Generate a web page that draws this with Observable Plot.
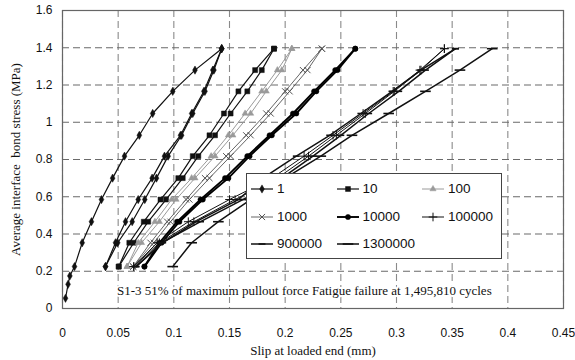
<!DOCTYPE html>
<html><head><meta charset="utf-8">
<script src="https://cdn.jsdelivr.net/npm/d3@7"></script>
<script src="https://cdn.jsdelivr.net/npm/@observablehq/plot@0.6"></script>
<style>
body{margin:0;background:#fff}
#chart{position:relative;width:575px;height:360px;overflow:hidden}
#legend{position:absolute;left:246px;top:173px;width:256px;height:86px;box-sizing:border-box;border:1.5px solid #444;background:#fff;font-family:"Liberation Sans",Arial,sans-serif;font-size:13.5px;color:#111}
.entry{position:absolute;display:flex;align-items:center;height:16px;line-height:16px}
.entry svg{display:block;margin-right:3px}
</style></head><body><div id="chart"></div>
<script>
// ---- data ----
const seriesNames = ["1","10","100","1000","10000","100000","900000","1300000"];
const levels = [0.225,0.353,0.466,0.585,0.70,0.818,0.93,1.047,1.166,1.28,1.395];
// cycle 1: first loading
const c1LoadY = [0.055,0.13,0.175,0.225,0.353,0.466,0.585,0.70,0.818,0.93,1.047,1.166,1.28,1.395];
const c1LoadX = [0.0027,0.005,0.0066,0.0108,0.0177,0.026,0.035,0.045,0.0557,0.069,0.081,0.099,0.119,0.143];
// branches at the stress levels above
const c1A = [0.0386,0.0476,0.0566,0.068,0.0805,0.0916,0.106,0.116,0.127,0.135,0.143];
const c1B = [0.0386,0.0496,0.0626,0.0739,0.0844,0.0949,0.107,0.117,0.128,0.136,0.143];
const c10A = [0.0505,0.060,0.073,0.088,0.104,0.117,0.132,0.145,0.158,0.173,0.190];
const c10B = [0.0505,0.064,0.077,0.093,0.108,0.122,0.137,0.151,0.166,0.179,0.190];
const c100A = [0.058,0.068,0.083,0.098,0.116,0.1335,0.149,0.164,0.179,0.193,0.206];
const c100B = [0.058,0.071,0.087,0.102,0.119,0.137,0.153,0.169,0.183,0.197,0.206];
const c1000A = [0.0635,0.079,0.094,0.111,0.128,0.147,0.165,0.183,0.200,0.216,0.233];
const c1000B = [0.0635,0.082,0.097,0.114,0.132,0.151,0.169,0.187,0.204,0.220,0.233];
const c10000A = [0.0736,0.087,0.103,0.124,0.146,0.166,0.186,0.207,0.226,0.245,0.263];
const c10000B = [0.0736,0.089,0.105,0.126,0.149,0.168,0.188,0.210,0.228,0.247,0.263];
const c100000A = [0.064,0.087,0.118,0.155,0.193,0.221,0.246,0.272,0.298,0.322,0.343];
const c100000B = [0.064,0.085,0.113,0.150,0.188,0.217,0.243,0.270,0.297,0.321,0.343];
const c900000A = [0.066,0.089,0.124,0.162,0.197,0.225,0.250,0.275,0.302,0.326,0.353];
const c900000B = [0.066,0.090,0.120,0.158,0.180,0.210,0.240,0.268,0.296,0.322,0.353];
const c1300000 = [0.099,0.116,0.140,0.169,0.200,0.232,0.260,0.293,0.326,0.357,0.386];
const xTicks = [0,0.05,0.1,0.15,0.2,0.25,0.3,0.35,0.4,0.45];
const yTicks = [0,0.2,0.4,0.6,0.8,1,1.2,1.4,1.6];
const xLabel = ["Slip at loaded end (mm)"];
const yLabel = ["Average interface\u00a0 bond stress (MPa)"];
const note = ["S1-3 51% of maximum pullout force Fatigue failure at 1,495,810 cycles"];

// ---- build table ----
const branches = [
  ["1", c1LoadX, c1LoadY], ["1", c1A, levels], ["1", c1B, levels],
  ["10", c10A, levels], ["10", c10B, levels],
  ["100", c100A, levels], ["100", c100B, levels],
  ["1000", c1000A, levels], ["1000", c1000B, levels],
  ["10000", c10000A, levels], ["10000", c10000B, levels],
  ["100000", c100000A, levels], ["100000", c100000B, levels],
  ["900000", c900000A, levels], ["900000", c900000B, levels],
  ["1300000", c1300000, levels]
];
const rows = [];
branches.forEach(([s, xs, ys], bi) => xs.forEach((x, i) => rows.push({series: s, branch: bi, x, y: ys[i]})));

// ---- styles ----
const dashShort = {draw(ctx, size){ const h = Math.sqrt(size) * 0.65; ctx.moveTo(-h, 0); ctx.lineTo(h, 0); }};
const dashLong = {draw(ctx, size){ const h = Math.sqrt(size) * 1.0; ctx.moveTo(-h, 0); ctx.lineTo(h, 0); }};
const style = {
  "1":       {stroke:"#111", sw:1.2, symbol:d3.symbolDiamond, fill:"#111", r:2.5, msw:0.5},
  "10":      {stroke:"#111", sw:1.2, symbol:d3.symbolSquare, fill:"#111", r:2.8, msw:0.5},
  "100":     {stroke:"#9a9a9a", sw:1.0, symbol:d3.symbolTriangle, fill:"#9a9a9a", r:2.3, msw:0.5},
  "1000":    {stroke:"#555", sw:0.9, symbol:d3.symbolTimes, fill:"none", r:2.9, msw:1},
  "10000":   {stroke:"#000", sw:1.9, symbol:d3.symbolCircle, fill:"#000", r:2.6, msw:0.5},
  "100000":  {stroke:"#111", sw:1.0, symbol:d3.symbolPlus, fill:"none", r:2.9, msw:1},
  "900000":  {stroke:"#111", sw:1.5, symbol:dashShort, fill:"none", r:3.0, msw:1.6},
  "1300000": {stroke:"#111", sw:1.5, symbol:dashLong, fill:"none", r:3.0, msw:1.6}
};
const serif = "'Liberation Serif','Times New Roman',serif";

const seriesMarks = seriesNames.flatMap(s => {
  const st = style[s];
  const data = rows.filter(d => d.series === s);
  return [
    Plot.line(data, {x:"x", y:"y", z:"branch", stroke:st.stroke, strokeWidth:st.sw}),
    Plot.dot(data, {x:"x", y:"y", symbol:st.symbol, r:st.r,
      fill: st.fill, stroke: st.stroke, strokeWidth: st.msw})
  ];
});

const chart = Plot.plot({
  width:575, height:360,
  marginLeft:62, marginRight:12, marginTop:10, marginBottom:52,
  style:{fontFamily:"'Liberation Sans', Arial, sans-serif", fontSize:"12px", color:"#111", background:"#fff"},
  x:{domain:[0,0.45]},
  y:{domain:[0,1.6]},
  marks:[
    Plot.gridX(xTicks, {stroke:"#8a8a8a", strokeOpacity:1, strokeWidth:1.1, strokeDasharray:"7,4"}),
    Plot.gridY(yTicks, {stroke:"#6a6a6a", strokeOpacity:1, strokeWidth:1.2, strokeDasharray:"7,4"}),
    Plot.text(note, {x:0.2172, y:0.095, text:d=>d, fontFamily:serif, fontSize:13, fill:"#111", stroke:"#fff", strokeWidth:4}),
    ...seriesMarks,
    Plot.frame({stroke:"#666", strokeWidth:1.2}),
    Plot.axisX(xTicks, {tickSize:0, tickPadding:20, tickFormat:d=>String(d), label:null}),
    Plot.axisY(yTicks, {tickSize:0, tickPadding:10, tickFormat:d=>String(d), label:null}),
    Plot.text(xLabel, {frameAnchor:"bottom", dy:42, text:d=>d, fontFamily:serif, fontSize:13, fill:"#111", lineAnchor:"middle", textAnchor:"middle"}),
    Plot.text(yLabel, {frameAnchor:"left", dx:-47, rotate:-90, text:d=>d, fontFamily:serif, fontSize:13, fill:"#111", lineAnchor:"middle", textAnchor:"middle"})
  ]
});
const host = document.getElementById("chart");
host.appendChild(chart);

// ---- legend (overlay) ----
const legend = document.createElement("div");
legend.id = "legend";
seriesNames.forEach((s, i) => {
  const st = style[s];
  const col = i % 3, row = Math.floor(i / 3);
  const e = document.createElement("div");
  e.className = "entry";
  e.style.left = (3 + col * 85.5) + "px";
  e.style.top = (7 + row * 27.5) + "px";
  const path = d3.symbol(st.symbol, Math.PI * st.r * st.r)();
  e.innerHTML = `<svg width="24" height="12" viewBox="-12 -6 24 12"><line x1="-11" x2="11" y1="0" y2="0" stroke="${st.stroke}" stroke-width="${st.sw}"/><path d="${path}" fill="${st.fill}" stroke="${st.stroke}" stroke-width="${st.msw}"/></svg><span>${s}</span>`;
  legend.appendChild(e);
});
host.appendChild(legend);
</script></body></html>
